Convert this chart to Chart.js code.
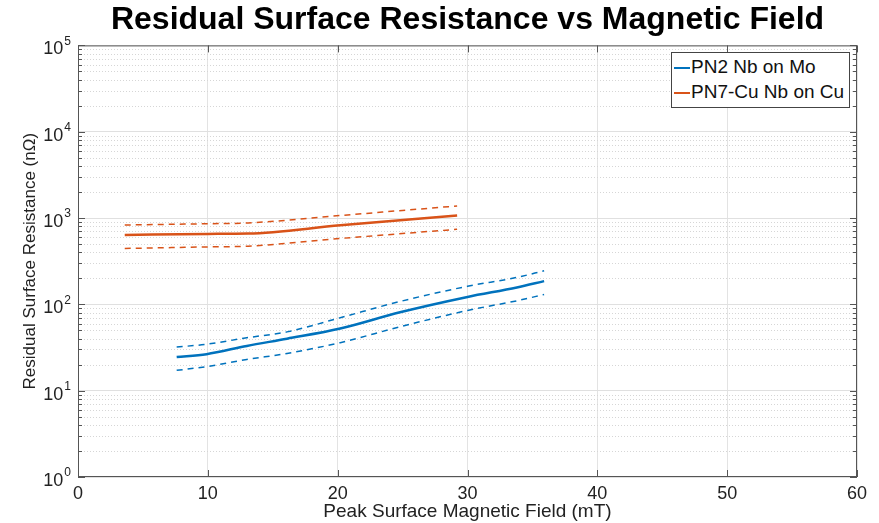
<!DOCTYPE html>
<html>
<head>
<meta charset="utf-8">
<script src="https://cdn.jsdelivr.net/npm/chart.js@4.4.0/dist/chart.umd.min.js"></script>
<style>
html, body { margin: 0; padding: 0; background: #fff; }
#wrap { position: relative; width: 879px; height: 523px; }
#legend {
  position: absolute; left: 671px; top: 52px; width: 177px; height: 54px;
  border: 1px solid #444; background: #fff;
  font: 19px "Liberation Sans", Arial, sans-serif; color: #111;
}
#legend .row { position: absolute; left: 2px; height: 22px; line-height: 22px; white-space: nowrap; }
#legend .sw { display: inline-block; width: 16px; height: 2px; vertical-align: middle; margin-right: 1px; }
</style>
</head>
<body>
<div id="wrap">
  <canvas id="myChart" width="879" height="523"></canvas>
  <div id="legend"></div>
</div>
<script>
// x ticks and y decade ticks
const xTicks = [0, 10, 20, 30, 40, 50, 60];
const decades = [1, 10, 100, 1000, 10000, 100000];
const decadeExp = ['0', '1', '2', '3', '4', '5'];

// PN2 Nb on Mo (blue)
const moField = [7.6, 9.9, 13.0, 16.1, 20.2, 24.8, 30.0, 33.8, 35.9];
const moMean  = [24.5, 26.5, 33, 40, 52.5, 81, 122, 157, 186];
const moUpper = [32, 34.5, 41, 48, 70, 108, 162, 205, 245];
const moLower = [17.2, 19, 23, 27, 36, 55, 85, 110, 130];

// PN7-Cu Nb on Cu (orange)
const cuField = [3.6, 10.0, 13.1, 20.2, 29.2];
const cuMean  = [637, 655, 660, 826, 1069];
const cuUpper = [830, 860, 877, 1070, 1380];
const cuLower = [444, 463, 472, 580, 741];

const blue = '#0072BD';
const orange = '#D95319';
const font = '"Liberation Sans", Arial, sans-serif';

function pts(xs, ys) {
  return xs.map((x, i) => ({ x: x, y: ys[i] }));
}
function isMajor(v) {
  return decades.includes(v);
}

const minorTicks = [];
decades.slice(0, -1).forEach(d => {
  for (let k = 2; k <= 9; k++) minorTicks.push(d * k);
});

const boxPlugin = {
  id: 'box',
  beforeDatasetsDraw(chart) {
    const { ctx, chartArea: a, scales: { y } } = chart;
    ctx.save();
    ctx.strokeStyle = '#d6d6d6';
    ctx.lineWidth = 1;
    ctx.setLineDash([1, 2]);
    minorTicks.forEach(v => {
      const py = Math.round(y.getPixelForValue(v)) + 0.5;
      ctx.beginPath();
      ctx.moveTo(a.left, py);
      ctx.lineTo(a.right, py);
      ctx.stroke();
    });
    ctx.restore();
  },
  afterDraw(chart) {
    const { ctx, chartArea: a, scales: { x, y } } = chart;
    ctx.save();
    ctx.strokeStyle = '#555';
    ctx.lineWidth = 1;
    ctx.strokeRect(a.left + 0.5, a.top + 0.5, a.right - a.left - 1, a.bottom - a.top - 1);
    // inward ticks
    xTicks.forEach(v => {
      const px = Math.round(x.getPixelForValue(v)) + 0.5;
      ctx.beginPath();
      ctx.moveTo(px, a.bottom); ctx.lineTo(px, a.bottom - 7);
      ctx.moveTo(px, a.top); ctx.lineTo(px, a.top + 7);
      ctx.stroke();
    });
    decades.concat(minorTicks).forEach(v => {
      const py = Math.round(y.getPixelForValue(v)) + 0.5;
      const len = isMajor(v) ? 7 : 4;
      ctx.beginPath();
      ctx.moveTo(a.left, py); ctx.lineTo(a.left + len, py);
      ctx.moveTo(a.right, py); ctx.lineTo(a.right - len, py);
      ctx.stroke();
    });
    // y decade labels as 10 with a raised exponent
    ctx.fillStyle = '#222';
    ctx.textBaseline = 'middle';
    ctx.textAlign = 'right';
    decades.forEach((v, i) => {
      const py = y.getPixelForValue(v);
      ctx.font = '12px ' + font;
      const ew = ctx.measureText(decadeExp[i]).width;
      ctx.fillText(decadeExp[i], a.left - 7, py - 4);
      ctx.font = '18px ' + font;
      ctx.fillText('10', a.left - 8 - ew, py + 4);
    });
    ctx.restore();
  }
};

const ctx = document.getElementById('myChart').getContext('2d');

const myChart = new Chart(ctx, {
  type: 'line',
  data: {
    datasets: [
      { label: 'PN2 Nb on Mo', data: pts(moField, moMean), borderColor: blue, borderWidth: 2.5 },
      { label: 'PN7-Cu Nb on Cu', data: pts(cuField, cuMean), borderColor: orange, borderWidth: 2.5 },
      { label: 'Mo upper', data: pts(moField, moUpper), borderColor: blue, borderWidth: 1.5, borderDash: [6, 5] },
      { label: 'Mo lower', data: pts(moField, moLower), borderColor: blue, borderWidth: 1.5, borderDash: [6, 5] },
      { label: 'Cu upper', data: pts(cuField, cuUpper), borderColor: orange, borderWidth: 1.5, borderDash: [6, 5] },
      { label: 'Cu lower', data: pts(cuField, cuLower), borderColor: orange, borderWidth: 1.5, borderDash: [6, 5] }
    ]
  },
  options: {
    responsive: false,
    animation: false,
    elements: {
      point: { radius: 0 },
      line: { tension: 0.3, cubicInterpolationMode: 'monotone', fill: false }
    },
    layout: { padding: { left: 0, right: 22, top: 0, bottom: 0 } },
    plugins: {
      legend: { display: false },
      tooltip: { enabled: false },
      title: {
        display: true,
        fullSize: false,
        text: 'Residual Surface Resistance vs Magnetic Field',
        color: '#000',
        font: { family: font, size: 32, weight: 'bold' },
        padding: { top: 1, bottom: 6 }
      }
    },
    scales: {
      x: {
        type: 'linear',
        min: 0,
        max: 60,
        afterBuildTicks: scale => { scale.ticks = xTicks.map(v => ({ value: v })); },
        afterFit: scale => { scale.height = 46; },
        grid: { color: '#e3e3e3', drawTicks: false },
        border: { display: false },
        ticks: {
          padding: 6,
          color: '#222',
          font: { family: font, size: 18 }
        },
        title: {
          display: true,
          text: 'Peak Surface Magnetic Field (mT)',
          color: '#222',
          padding: { top: 0, bottom: 0 },
          font: { family: font, size: 19 }
        }
      },
      y: {
        type: 'logarithmic',
        min: 1,
        max: 100000,
        afterBuildTicks: scale => {
          scale.ticks = decades.concat(minorTicks).sort((p, q) => p - q).map(v => ({ value: v }));
        },
        afterFit: scale => { scale.width = 78; },
        grid: {
          drawTicks: false,
          color: c => (c.tick && isMajor(c.tick.value)) ? '#e0e0e0' : 'rgba(0,0,0,0)'
        },
        border: { display: false },
        ticks: {
          autoSkip: false,
          callback: () => ''
        },
        title: {
          display: true,
          text: 'Residual Surface Resistance (nΩ)',
          color: '#222',
          padding: { top: 20, bottom: 0 },
          font: { family: font, size: 17 }
        }
      }
    }
  },
  plugins: [boxPlugin]
});

// legend box inside the plot, solid series only
const legend = document.getElementById('legend');
myChart.data.datasets.slice(0, 2).forEach((ds, i) => {
  const row = document.createElement('div');
  row.className = 'row';
  row.style.top = (3 + i * 25) + 'px';
  row.innerHTML = '<span class="sw" style="background:' + ds.borderColor + '"></span>' + ds.label;
  legend.appendChild(row);
});
</script>
</body>
</html>
